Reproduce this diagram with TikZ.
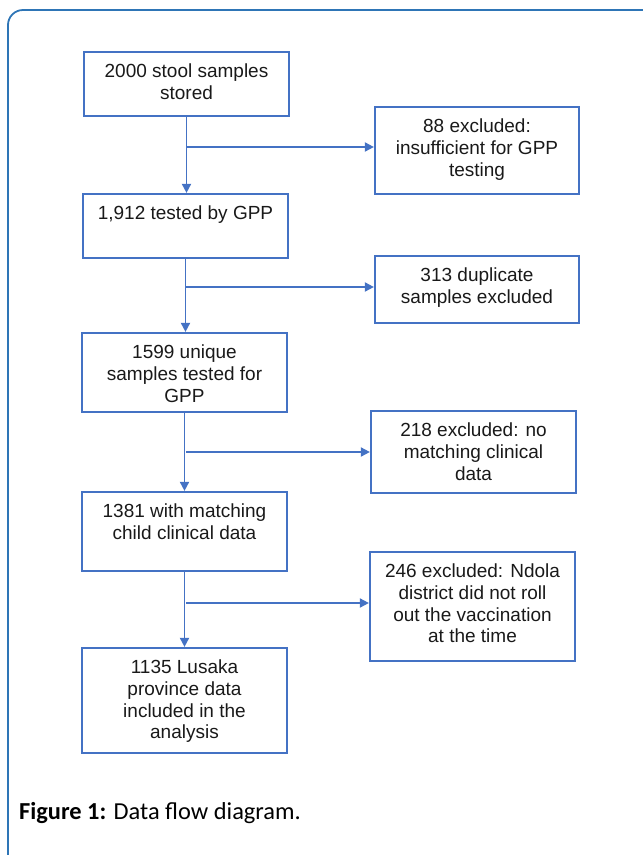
\documentclass[tikz,border=0pt]{standalone}
\usepackage{fontspec}
\setmainfont{Liberation Sans}
\newfontfamily\capfont{Carlito}
\usetikzlibrary{arrows.meta}
\definecolor{boxblue}{RGB}{68,114,196}
\definecolor{frameblue}{RGB}{46,117,182}
\definecolor{txtgray}{RGB}{25,25,25}
\begin{document}
\begin{tikzpicture}[x=1pt,y=-1pt,
  box/.style={draw=boxblue, line width=2.2pt, inner sep=0pt},
  txt/.style={anchor=north, align=center, inner sep=0pt, text=txtgray,
    font=\fontsize{19}{21.8}\selectfont},
  conn/.style={draw=boxblue, line width=1.8pt},
  arr/.style={conn, -{Triangle[length=9pt,width=9pt]}}]
\useasboundingbox (0,0) rectangle (643,855);
\draw[frameblue, line width=1.8pt, rounded corners=15pt] (8,857) -- (8,10) -- (680,10);
% main column
\node[box, minimum width=205, minimum height=64] (b1) at (186.5,84) {};
\node[box, minimum width=205, minimum height=64] (b2) at (185.5,226) {};
\node[box, minimum width=205, minimum height=79] (b3) at (184.5,372.5) {};
\node[box, minimum width=205, minimum height=79] (b4) at (184.5,531.5) {};
\node[box, minimum width=205, minimum height=105] (b5) at (184.5,700.5) {};
% exclusion column
\node[box, minimum width=204, minimum height=87] (r1) at (477,150.5) {};
\node[box, minimum width=204, minimum height=67] (r2) at (477,289.5) {};
\node[box, minimum width=205, minimum height=82] (r3) at (473.5,452) {};
\node[box, minimum width=205, minimum height=109] (r4) at (472.5,606.5) {};
% texts
\node[txt] (t1) at ([yshift=-12.7pt]b1.north) {2000 stool samples\\stored};
\node[txt] (t2) at ([yshift=-12.7pt]b2.north) {1,912 tested by GPP};
\node[txt] (t3) at ([yshift=-12.7pt]b3.north) {1599 unique\\samples tested for\\GPP};
\node[txt] (t4) at ([yshift=-12.7pt]b4.north) {1381 with matching\\child clinical data};
\node[txt] (t5) at ([yshift=-12.7pt]b5.north) {1135 Lusaka\\province data\\included in the\\analysis};
\node[txt] (u1) at ([yshift=-12.7pt]r1.north) {88 excluded:\\insufficient for GPP\\testing};
\node[txt] (u2) at ([yshift=-12.7pt]r2.north) {313 duplicate\\samples excluded};
\node[txt] (u3) at ([yshift=-12.7pt]r3.north) {218 excluded: no\\matching clinical\\data};
\node[txt] (u4) at ([yshift=-12.7pt]r4.north) {246 excluded: Ndola\\district did not roll\\out the vaccination\\at the time};
% vertical connectors
\draw[arr] (b1.south) -- (b1.south |- b2.north);
\draw[arr] (b2.south) -- (b2.south |- b3.north);
\draw[arr] (b3.south) -- (b3.south |- b4.north);
\draw[arr] (b4.south) -- (b4.south |- b5.north);
% side connectors
\coordinate (j1) at (186,147);
\coordinate (j2) at (186,287);
\coordinate (j3) at (186,452);
\coordinate (j4) at (186,603);
\draw[arr] (j1) -- (j1 -| r1.west);
\draw[arr] (j2) -- (j2 -| r2.west);
\draw[arr] (j3) -- (j3 -| r3.west);
\draw[arr] (j4) -- (j4 -| r4.west);
% caption
\node[anchor=base west, inner sep=0pt, font=\capfont\fontsize{24.4}{28}\selectfont] (cap) at (19,819) {\textbf{Figure 1:} Data flow diagram.};
\end{tikzpicture}
\end{document}
